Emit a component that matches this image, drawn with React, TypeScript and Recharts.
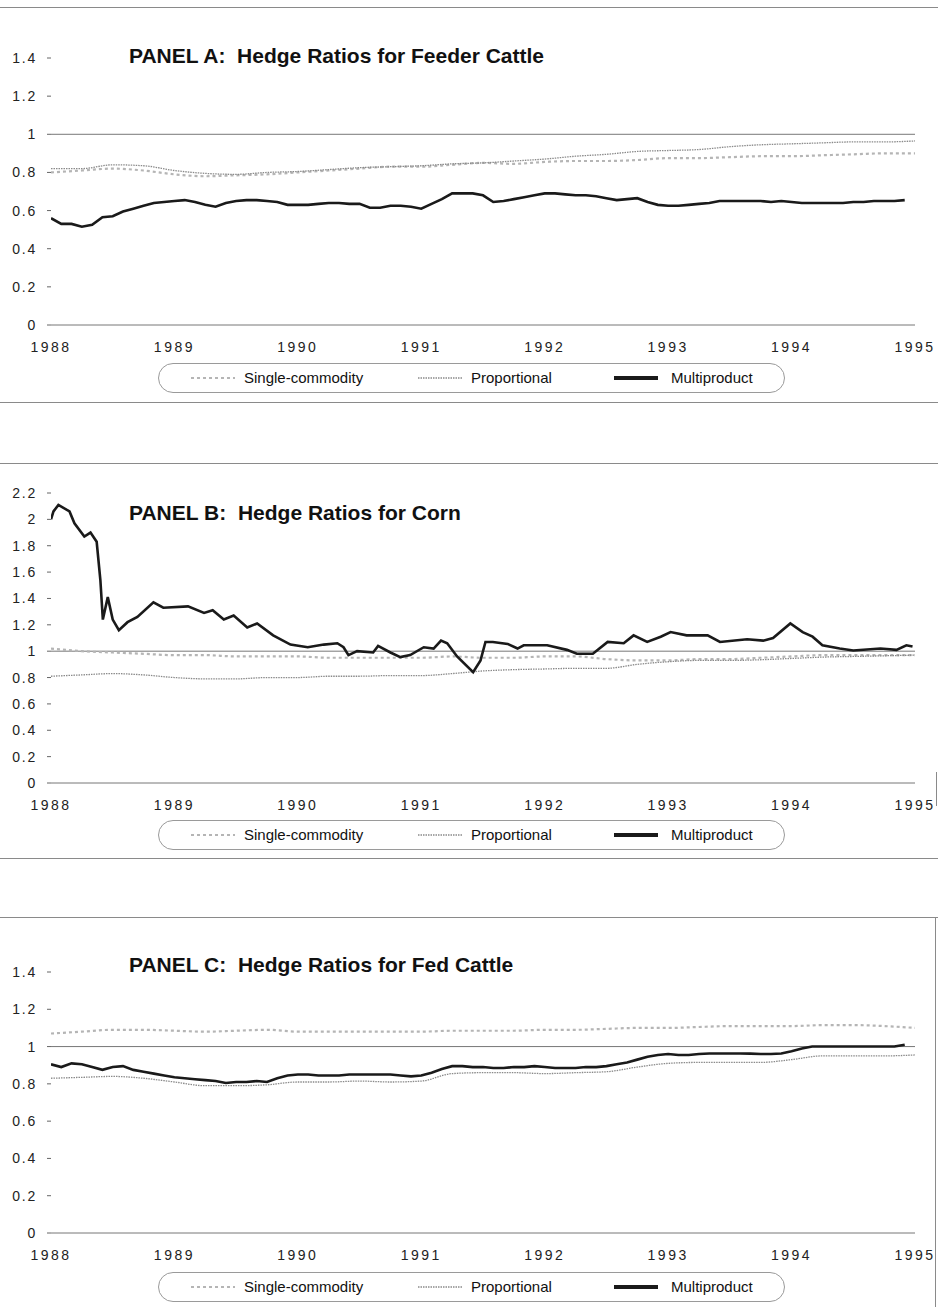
import React from "react";
import { LineChart, Line, XAxis, YAxis, ReferenceLine } from "recharts";

// ---------- tick labels ----------
const YEARS = [1988, 1989, 1990, 1991, 1992, 1993, 1994, 1995];
const TICKS_14 = [0, 0.2, 0.4, 0.6, 0.8, 1, 1.2, 1.4];
const TICKS_22 = [0, 0.2, 0.4, 0.6, 0.8, 1, 1.2, 1.4, 1.6, 1.8, 2, 2.2];
const SERIES_NAMES = ["Single-commodity", "Proportional", "Multiproduct"];

// ---------- Panel A: Feeder Cattle ----------
// monthly, from Jan 1988
const feederMulti = [
  0.56, 0.53, 0.53, 0.515, 0.525, 0.565, 0.57, 0.595, 0.61, 0.625, 0.64, 0.645,
  0.65, 0.655, 0.645, 0.63, 0.62, 0.64, 0.65, 0.655, 0.655, 0.65, 0.645, 0.63,
  0.63, 0.63, 0.635, 0.64, 0.64, 0.635, 0.635, 0.615, 0.615, 0.625, 0.625, 0.62,
  0.61, 0.635, 0.66, 0.69, 0.69, 0.69, 0.68, 0.645, 0.65, 0.66, 0.67, 0.68,
  0.69, 0.69, 0.685, 0.68, 0.68, 0.675, 0.665, 0.655, 0.66, 0.665, 0.645, 0.63,
  0.625, 0.625, 0.63, 0.635, 0.64, 0.65, 0.65, 0.65, 0.65, 0.65, 0.645, 0.65,
  0.645, 0.64, 0.64, 0.64, 0.64, 0.64, 0.645, 0.645, 0.65, 0.65, 0.65, 0.655,
];
// quarterly, from 1988.0
const feederProp = [
  0.82, 0.82, 0.84, 0.835, 0.81, 0.795, 0.79, 0.8, 0.805, 0.815, 0.825, 0.83,
  0.835, 0.845, 0.85, 0.86, 0.87, 0.885, 0.895, 0.91, 0.915, 0.92, 0.935, 0.945,
  0.95, 0.955, 0.96, 0.96, 0.965,
];
const feederSingle = [
  0.8, 0.81, 0.82, 0.81, 0.79, 0.78, 0.785, 0.79, 0.8, 0.81, 0.82, 0.83,
  0.83, 0.84, 0.85, 0.845, 0.855, 0.86, 0.86, 0.865, 0.875, 0.875, 0.88, 0.885,
  0.885, 0.89, 0.895, 0.9, 0.9,
];

// ---------- Panel B: Corn ----------
const cornMultiT = [
  1988.0, 1988.02, 1988.06, 1988.15, 1988.19, 1988.27, 1988.32, 1988.37, 1988.4, 1988.42,
  1988.46, 1988.5, 1988.55, 1988.62, 1988.7, 1988.83, 1988.91, 1989.11, 1989.24, 1989.31,
  1989.4, 1989.48, 1989.59, 1989.67, 1989.8, 1989.94, 1990.08, 1990.21, 1990.32, 1990.37,
  1990.41, 1990.48, 1990.61, 1990.65, 1990.75, 1990.83, 1990.91, 1991.02, 1991.1, 1991.16,
  1991.21, 1991.29, 1991.42, 1991.48, 1991.52, 1991.58, 1991.7, 1991.78, 1991.83, 1992.02,
  1992.18, 1992.26, 1992.39, 1992.51, 1992.64, 1992.72, 1992.83, 1992.94, 1993.02, 1993.15,
  1993.32, 1993.42, 1993.64, 1993.77, 1993.85, 1993.99, 1994.09, 1994.17, 1994.25, 1994.39,
  1994.5, 1994.72, 1994.85, 1994.93, 1994.98,
];
const cornMultiV = [
  2.0, 2.06, 2.11, 2.06, 1.97, 1.87, 1.9, 1.83, 1.54, 1.24,
  1.41, 1.24, 1.16, 1.22, 1.26, 1.37, 1.33, 1.34, 1.29, 1.31,
  1.24, 1.27, 1.18, 1.21, 1.12, 1.05, 1.03, 1.05, 1.06, 1.03,
  0.97, 1.0, 0.99, 1.04, 0.99, 0.955, 0.97, 1.03, 1.02, 1.08,
  1.06, 0.96, 0.84, 0.93, 1.07, 1.07, 1.055, 1.02, 1.045, 1.045,
  1.01, 0.98, 0.98, 1.07, 1.06, 1.12, 1.07, 1.11, 1.145, 1.12,
  1.12, 1.07, 1.09, 1.08, 1.1, 1.21, 1.145, 1.11, 1.045, 1.02,
  1.005, 1.02, 1.01, 1.045, 1.035,
];
const cornProp = [
  0.81, 0.82, 0.83, 0.82, 0.8, 0.79, 0.79, 0.8, 0.8, 0.81, 0.81, 0.815,
  0.815, 0.83, 0.85, 0.86, 0.865, 0.87, 0.87, 0.9, 0.92, 0.93, 0.93, 0.935,
  0.945, 0.955, 0.96, 0.965, 0.97,
];
const cornSingle = [
  1.02, 1.0, 0.99, 0.98, 0.97, 0.97, 0.96, 0.96, 0.96, 0.95, 0.95, 0.95,
  0.95, 0.96, 0.95, 0.95, 0.96, 0.96, 0.94, 0.93, 0.93, 0.94, 0.94, 0.95,
  0.96, 0.97, 0.97, 0.97, 0.97,
];

// ---------- Panel C: Fed Cattle ----------
const fedMulti = [
  0.905, 0.89, 0.91, 0.905, 0.89, 0.875, 0.89, 0.895, 0.875, 0.865, 0.855, 0.845,
  0.835, 0.83, 0.825, 0.82, 0.815, 0.805, 0.81, 0.81, 0.815, 0.81, 0.83, 0.845,
  0.85, 0.85, 0.845, 0.845, 0.845, 0.85, 0.85, 0.85, 0.85, 0.85, 0.845, 0.84,
  0.845, 0.86, 0.88, 0.895, 0.895, 0.89, 0.89, 0.885, 0.885, 0.89, 0.89, 0.895,
  0.89, 0.885, 0.885, 0.885, 0.89, 0.89, 0.895, 0.905, 0.915, 0.93, 0.945, 0.955,
  0.96, 0.955, 0.955, 0.96, 0.963, 0.963, 0.963, 0.963, 0.962, 0.96, 0.96, 0.963,
  0.975, 0.99, 1.0, 1.0, 1.0, 1.0, 1.0, 1.0, 1.0, 1.0, 1.0, 1.01,
];
const fedProp = [
  0.83, 0.835, 0.84, 0.83, 0.81, 0.79, 0.79, 0.795, 0.81, 0.81, 0.815, 0.81,
  0.815, 0.855, 0.86, 0.86, 0.855, 0.86, 0.865, 0.89, 0.91, 0.915, 0.915, 0.915,
  0.93, 0.95, 0.95, 0.95, 0.955,
];
const fedSingle = [
  1.07, 1.08, 1.09, 1.09, 1.085, 1.08, 1.085, 1.09, 1.08, 1.08, 1.08, 1.08,
  1.08, 1.085, 1.085, 1.085, 1.09, 1.09, 1.095, 1.1, 1.1, 1.105, 1.11, 1.11,
  1.11, 1.115, 1.115, 1.11, 1.1,
];

// ---------- helpers ----------
const monthly = (vals: number[]) => vals.map((v, i) => ({ t: 1988 + i / 12, v }));
const quarterly = (vals: number[]) => vals.map((v, i) => ({ t: 1988 + i / 4, v }));
const paired = (ts: number[], vs: number[]) => ts.map((t, i) => ({ t, v: vs[i] }));

const FONT = "'Liberation Sans', Arial, Helvetica, sans-serif";
const fmtY = (v: number) => (Number.isInteger(v) ? String(v) : v.toFixed(1));

const SINGLE_STYLE = { stroke: "#b5b5b5", strokeWidth: 2.2, strokeDasharray: "3 3" };
const PROP_STYLE = { stroke: "#8a8a8a", strokeWidth: 1.3, strokeDasharray: "1.5 1" };
const MULTI_STYLE = { stroke: "#1a1a1a", strokeWidth: 2.6 };

type PanelProps = {
  top: number;
  height: number;
  marginTop: number;
  marginBottom: number;
  yMax: number;
  yTicks: number[];
  single: { t: number; v: number }[];
  prop: { t: number; v: number }[];
  multi: { t: number; v: number }[];
};

function Panel(p: PanelProps) {
  return (
    <div style={{ position: "absolute", left: 0, top: p.top }}>
      <LineChart
        width={938}
        height={p.height}
        margin={{ top: p.marginTop, right: 23, bottom: p.marginBottom, left: 0 }}
      >
        <XAxis
          dataKey="t"
          type="number"
          domain={[1988, 1995]}
          ticks={YEARS}
          allowDataOverflow
          height={35}
          tickLine={false}
          tickSize={0}
          tickMargin={17}
          axisLine={{ stroke: "#777", strokeWidth: 1 }}
          tick={{ fill: "#222", fontSize: 14, fontFamily: FONT, letterSpacing: 2.5 }}
        />
        <YAxis
          type="number"
          domain={[0, p.yMax]}
          ticks={p.yTicks}
          width={51}
          axisLine={false}
          tickSize={4}
          tickMargin={10}
          tickLine={{ stroke: "#666" }}
          tickFormatter={fmtY}
          tick={{ fill: "#222", fontSize: 14, fontFamily: FONT, letterSpacing: 1.8 }}
        />
        <ReferenceLine y={1} stroke="#777" strokeWidth={1} />
        <Line
          data={p.single}
          dataKey="v"
          name={SERIES_NAMES[0]}
          type="monotone"
          dot={false}
          isAnimationActive={false}
          {...SINGLE_STYLE}
        />
        <Line
          data={p.prop}
          dataKey="v"
          name={SERIES_NAMES[1]}
          type="monotone"
          dot={false}
          isAnimationActive={false}
          {...PROP_STYLE}
        />
        <Line
          data={p.multi}
          dataKey="v"
          name={SERIES_NAMES[2]}
          type="linear"
          dot={false}
          isAnimationActive={false}
          {...MULTI_STYLE}
        />
      </LineChart>
    </div>
  );
}

function Title({ top, text }: { top: number; text: string }) {
  return (
    <div
      style={{
        position: "absolute",
        left: 129,
        top,
        fontFamily: FONT,
        fontWeight: "bold",
        fontSize: 21,
        lineHeight: "21px",
        color: "#111",
        whiteSpace: "pre",
      }}
    >
      {text}
    </div>
  );
}

function LegendBox({ top }: { top: number }) {
  const glyphs = [SINGLE_STYLE, PROP_STYLE, { ...MULTI_STYLE, strokeWidth: 4 }];
  const glyphX = [32, 259, 455];
  const textX = [85, 312, 512];
  return (
    <div
      style={{
        position: "absolute",
        left: 158,
        top,
        width: 627,
        height: 30,
        border: "1px solid #9a9a9a",
        borderRadius: 16,
        boxSizing: "border-box",
        fontFamily: FONT,
        fontSize: 15,
        color: "#111",
      }}
    >
      {SERIES_NAMES.map((name, i) => (
        <React.Fragment key={name}>
          <svg
            width={44}
            height={10}
            style={{ position: "absolute", left: glyphX[i], top: 9 }}
          >
            <line x1={0} y1={5} x2={44} y2={5} {...(glyphs[i] as any)} />
          </svg>
          <div style={{ position: "absolute", left: textX[i], top: 5, lineHeight: "18px" }}>
            {name}
          </div>
        </React.Fragment>
      ))}
    </div>
  );
}

function HRule({ y }: { y: number }) {
  return (
    <div
      style={{
        position: "absolute",
        left: 0,
        top: y,
        width: 938,
        height: 0,
        borderTop: "1px solid #8a8a8a",
      }}
    />
  );
}

function VRule({ x, y1, y2 }: { x: number; y1: number; y2: number }) {
  return (
    <div
      style={{
        position: "absolute",
        left: x,
        top: y1,
        width: 0,
        height: y2 - y1,
        borderLeft: "1px solid #8a8a8a",
      }}
    />
  );
}

export default function App() {
  return (
    <div
      style={{
        position: "absolute",
        left: 0,
        top: 0,
        width: 938,
        height: 1307,
        background: "#fff",
        overflow: "hidden",
      }}
    >
      <HRule y={7} />
      <Panel
        top={0}
        height={360}
        marginTop={58}
        marginBottom={0}
        yMax={1.4}
        yTicks={TICKS_14}
        single={quarterly(feederSingle)}
        prop={quarterly(feederProp)}
        multi={monthly(feederMulti)}
      />
      <Title top={45} text={"PANEL A:  Hedge Ratios for Feeder Cattle"} />
      <LegendBox top={363} />
      <HRule y={402} />

      <HRule y={463} />
      <Panel
        top={420}
        height={420}
        marginTop={73}
        marginBottom={22}
        yMax={2.2}
        yTicks={TICKS_22}
        single={quarterly(cornSingle)}
        prop={quarterly(cornProp)}
        multi={paired(cornMultiT, cornMultiV)}
      />
      <Title top={502} text={"PANEL B:  Hedge Ratios for Corn"} />
      <LegendBox top={820} />
      <VRule x={936} y1={772} y2={806} />
      <HRule y={858} />

      <HRule y={917} />
      <Panel
        top={900}
        height={380}
        marginTop={72}
        marginBottom={12}
        yMax={1.4}
        yTicks={TICKS_14}
        single={quarterly(fedSingle)}
        prop={quarterly(fedProp)}
        multi={monthly(fedMulti)}
      />
      <Title top={954} text={"PANEL C:  Hedge Ratios for Fed Cattle"} />
      <LegendBox top={1272} />
      <VRule x={935} y1={917} y2={1307} />
    </div>
  );
}
